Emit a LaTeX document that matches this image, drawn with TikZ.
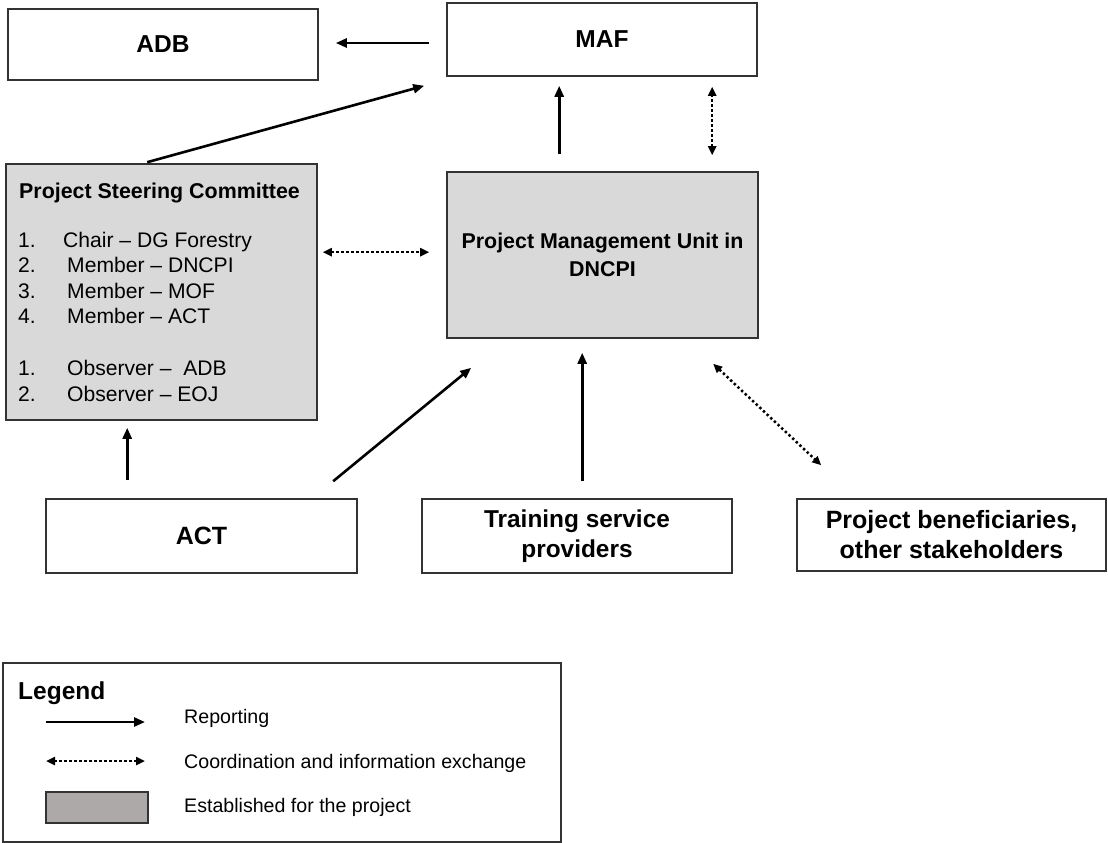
\documentclass[tikz,border=0pt]{standalone}
\usepackage{fontspec}
\setmainfont{Liberation Sans}
\usetikzlibrary{arrows.meta,calc}
\definecolor{linec}{HTML}{333333}
\definecolor{estfill}{HTML}{D9D9D9}
\definecolor{legfill}{HTML}{ADA9A9}
\begin{document}
\begin{tikzpicture}[x=1pt,y=-1pt,
  box/.style={draw=linec, line width=1.6pt, inner sep=0pt, align=center},
  est/.style={box, fill=estfill},
  big/.style={font=\fontsize{24.5}{30}\selectfont\bfseries},
  mid/.style={font=\fontsize{21.4}{28}\selectfont\bfseries},
  reg/.style={font=\fontsize{21.1}{25}\selectfont, anchor=base west, inner sep=0pt},
  legtxt/.style={font=\fontsize{19.6}{24}\selectfont, anchor=base west, inner sep=0pt},
  rep/.style={line width=2.6pt, -{Triangle[length=11pt,width=9pt]}},
  coord/.style={line width=2.5pt, dash pattern=on 2.4pt off 2.6pt, {Triangle[length=9pt,width=8pt]}-{Triangle[length=9pt,width=8pt]}}
]
\useasboundingbox (0,0) rectangle (1108,843);

% boxes
\node[box, big, minimum width=310pt, minimum height=71pt] (adb) at (163,44.5) {ADB};
\node[box, big, minimum width=310pt, minimum height=73pt] (maf) at (602,39.5) {MAF};
\node[est, minimum width=311pt, minimum height=256pt] (psc) at (161.5,292) {};
\node[est, mid, minimum width=311pt, minimum height=166pt] (pmu) at (602.5,255) {Project Management Unit in\\DNCPI};
\node[box, font=\fontsize{25}{30}\selectfont\bfseries, minimum width=311pt, minimum height=74pt] (act) at (201.5,536) {ACT};
\node[box, font=\fontsize{24.4}{30}\selectfont\bfseries, minimum width=310pt, minimum height=74pt] (train) at (577,536) {Training service\\providers};
\node[box, font=\fontsize{25}{30}\selectfont\bfseries, minimum width=309pt, minimum height=72pt] (ben) at (951.5,535) {Project beneficiaries,\\other stakeholders};

% steering committee text
\node[mid, anchor=base west, inner sep=0pt] (psct) at (19,198) {Project Steering Committee};
\node[reg] (n1) at (18,247) {1.};
\node[reg] (n2) at (18,272.5) {2.};
\node[reg] (n3) at (18,298) {3.};
\node[reg] (n4) at (18,323.5) {4.};
\node[reg] (n5) at (18,375) {1.};
\node[reg] (n6) at (18,401) {2.};
\node[reg] (t1) at (63,247) {Chair – DG Forestry};
\node[reg] (t2) at (67,272.5) {Member – DNCPI};
\node[reg] (t3) at (67,298) {Member – MOF};
\node[reg] (t4) at (67,323.5) {Member – ACT};
\node[reg] (t5) at (67,375) {Observer –\ \ ADB};
\node[reg] (t6) at (67,401) {Observer – EOJ};

% connectors
\draw[rep] ($(maf.west)+(-17,3.5)$) -- ($(adb.east)+(17,-1.5)$);
\draw[rep] ($(psc.north west)+(142,-1)$) -- ($(maf.south west)+(-22,9)$);
\draw[rep] ($(pmu.north west)+(113,-17)$) -- ($(maf.south west)+(113,9)$);
\draw[coord] ($(pmu.north west)+(266,-16)$) -- ($(maf.south west)+(266,10)$);
\draw[coord] ($(psc.north east)+(5,89)$) -- ($(pmu.north west)+(-17,81)$);
\draw[rep] ($(act.north west)+(82,-18)$) -- ($(psc.south west)+(122,7)$);
\draw[rep] ($(act.north west)+(288,-17)$) -- ($(pmu.south west)+(25,29)$);
\draw[rep] ($(train.north west)+(161,-17)$) -- ($(pmu.south west)+(136,14)$);
\draw[coord] ($(pmu.south west)+(267,25)$) -- ($(ben.north west)+(25,-33)$);

% legend
\node[box, minimum width=558pt, minimum height=179pt] (leg) at (282,752.5) {};
\node[big, anchor=base west, inner sep=0pt] (legt) at (18,699) {Legend};
\coordinate (r1) at (46,722);
\coordinate (r2) at (145,722);
\draw[rep] (r1) -- (r2);
\node[legtxt] (lr) at (184,723) {Reporting};
\coordinate (c1) at (46,761);
\coordinate (c2) at (145,761);
\draw[coord] (c1) -- (c2);
\node[legtxt] (lc) at (184,768) {Coordination and information exchange};
\node[box, fill=legfill, minimum width=102pt, minimum height=31pt] (lg) at (97,807.5) {};
\node[legtxt] (le) at (184,812) {Established for the project};
\end{tikzpicture}
\end{document}
